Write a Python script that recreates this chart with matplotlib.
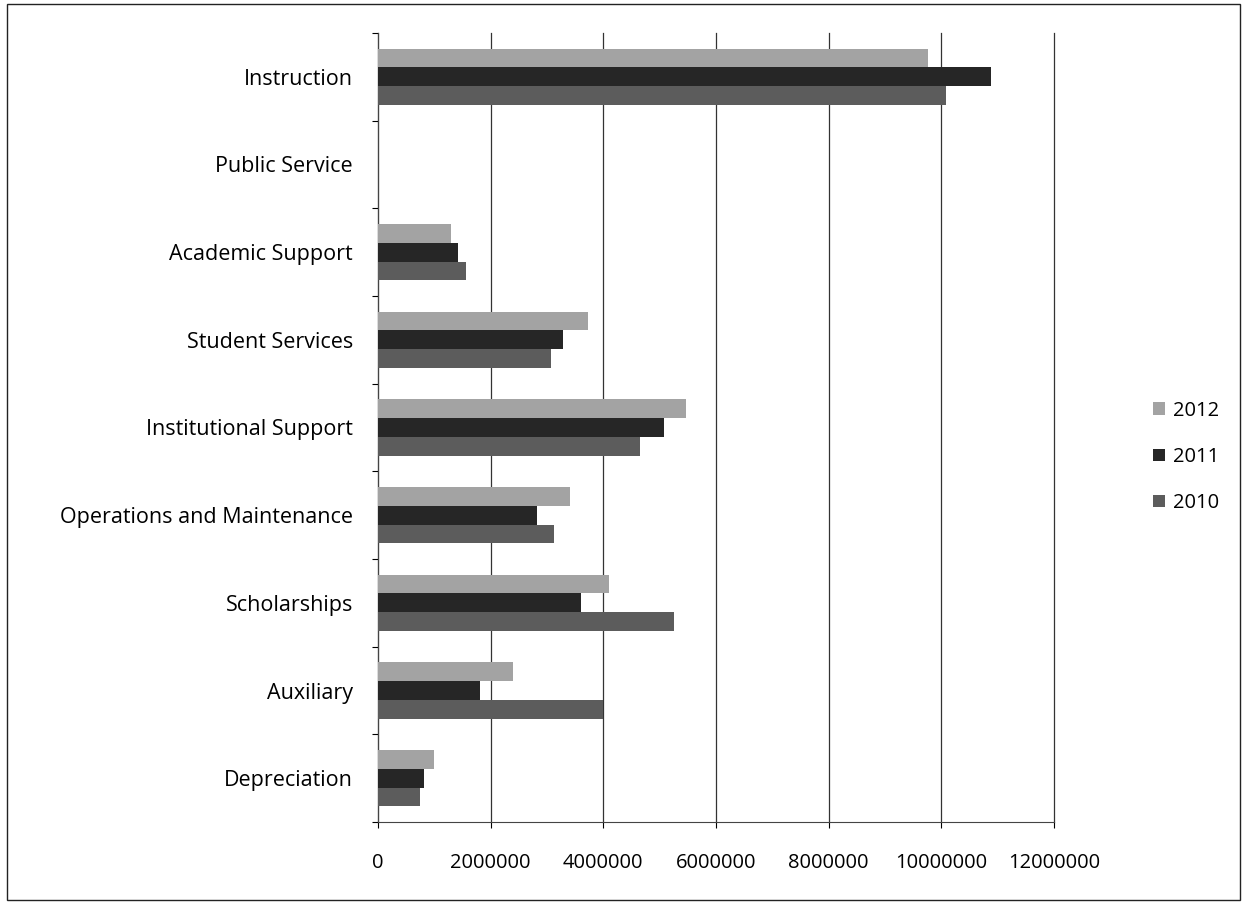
import matplotlib
matplotlib.use("Agg")
import matplotlib.pyplot as plt
import numpy as np
from matplotlib.patches import Rectangle

categories = ["Instruction", "Public Service", "Academic Support", "Student Services",
              "Institutional Support", "Operations and Maintenance", "Scholarships",
              "Auxiliary", "Depreciation"]
series_names = ["2012", "2011", "2010"]
v2012 = [9770000, 0, 1300000, 3720000, 5470000, 3410000, 4100000, 2400000, 990000]
v2011 = [10880000, 0, 1420000, 3290000, 5080000, 2820000, 3600000, 1810000, 810000]
v2010 = [10090000, 0, 1560000, 3070000, 4650000, 3120000, 5250000, 4000000, 740000]
xticks = [0, 2000000, 4000000, 6000000, 8000000, 10000000, 12000000]

plt.rcParams['font.family'] = ['Open Sans', 'DejaVu Sans']

fig = plt.figure(figsize=(12.46, 9.07), dpi=100)
ax = fig.add_axes([378/1246, 1-822/907, (1054-378)/1246, (822-33)/907])

colors = ["#a3a3a3", "#262626", "#5c5c5c"]
h = 0.215
y = np.arange(len(categories))
for i, (vals, name) in enumerate(zip([v2012, v2011, v2010], series_names)):
    ax.barh(y + (i - 1) * h, vals, height=h, color=colors[i], label=name, zorder=3)

ax.set_ylim(len(categories) - 0.5, -0.5)
ax.set_xlim(0, 12000000)
ax.set_xticks(xticks)
ax.set_xticklabels([str(t) for t in xticks], fontsize=14.5)
ax.set_yticks(y)
ax.set_yticklabels(categories, fontsize=15.5)
ax.set_yticks(np.arange(-0.5, len(categories), 1.0), minor=True)
ax.tick_params(axis='y', which='major', length=0, pad=18)
ax.tick_params(axis='y', which='minor', length=4, width=0.8)
ax.tick_params(axis='x', which='major', length=4, width=0.8, pad=18)

ax.grid(axis='x', color='#333333', linewidth=0.9, zorder=0)
for gl in ax.get_xgridlines():
    gl.set_clip_on(False)
for s in ['top', 'right']:
    ax.spines[s].set_visible(False)
ax.spines['left'].set_color('#444444')
ax.spines['bottom'].set_color('#444444')

leg = fig.legend(loc='center left', bbox_to_anchor=(1135/1246, 1-457/907), frameon=False,
                 fontsize=14.5, handlelength=0.6, handleheight=0.6, labelspacing=1.3,
                 handletextpad=0.4)

fig.patches.append(Rectangle((7/1246, 1-900/907), (1240-7)/1246, (900-4)/907,
                             transform=fig.transFigure, fill=False, edgecolor='#222222',
                             linewidth=1))

fig.savefig("out.png", dpi=100)
